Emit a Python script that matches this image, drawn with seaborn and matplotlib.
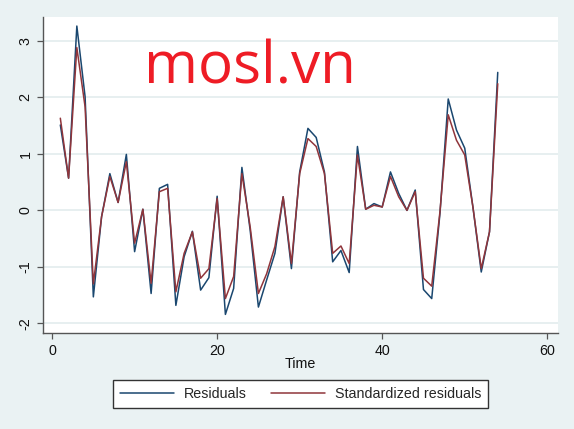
import numpy as np
import pandas as pd
import matplotlib
matplotlib.use("Agg")
import matplotlib.pyplot as plt
import seaborn as sns

time = list(range(1, 55))
residuals = [1.51, 0.57, 3.26, 2.01, -1.53, -0.11, 0.65, 0.14, 0.99, -0.73,
             0.02, -1.47, 0.39, 0.46, -1.68, -0.82, -0.37, -1.41, -1.19, 0.25,
             -1.84, -1.38, 0.76, -0.35, -1.71, -1.23, -0.76, 0.24, -1.03, 0.68,
             1.45, 1.29, 0.68, -0.91, -0.71, -1.10, 1.13, 0.02, 0.12, 0.06,
             0.68, 0.30, 0.00, 0.36, -1.40, -1.56, -0.05, 1.97, 1.42, 1.10,
             0.05, -1.09, -0.38, 2.44]
std_residuals = [1.63, 0.57, 2.88, 1.83, -1.30, -0.11, 0.60, 0.14, 0.86, -0.58,
                 0.02, -1.29, 0.33, 0.39, -1.44, -0.76, -0.38, -1.20, -1.03, 0.21,
                 -1.56, -1.17, 0.65, -0.29, -1.47, -1.12, -0.64, 0.24, -0.94, 0.65,
                 1.27, 1.13, 0.65, -0.76, -0.63, -0.94, 0.98, 0.02, 0.09, 0.06,
                 0.60, 0.24, 0.00, 0.33, -1.20, -1.34, -0.02, 1.69, 1.24, 0.98,
                 0.05, -1.03, -0.38, 2.24]
series_names = ["Residuals", "Standardized residuals"]
colors = ["#1A476F", "#90353B"]
x_ticks = [0, 20, 40, 60]
y_ticks = [-2, -1, 0, 1, 2, 3]

df = pd.DataFrame({
    "Time": time * 2,
    "value": residuals + std_residuals,
    "series": [series_names[0]] * len(time) + [series_names[1]] * len(time),
})

sns.set_style("white")
plt.rcParams["font.family"] = ["Liberation Sans", "DejaVu Sans"]

bg = "#EAF2F3"
fig = plt.figure(figsize=(5.74, 4.29), dpi=100, facecolor=bg)
ax = fig.add_axes([43 / 574, 1 - 332.5 / 429, (558 - 43) / 574, (332.5 - 17) / 429])
ax.set_facecolor("white")

sns.lineplot(data=df, x="Time", y="value", hue="series", palette=colors,
             hue_order=series_names, linewidth=1.1, ax=ax, legend=False)

ax.set_xlim(-1.1, 61.3)
ax.set_ylim(-2.16, 3.42)
ax.set_xticks(x_ticks)
ax.set_yticks(y_ticks)
ax.set_xticklabels([str(v) for v in x_ticks])
ax.set_yticklabels([str(v) for v in y_ticks], rotation=90, va="center")
ax.grid(axis="y", color="#E3ECEE", linewidth=1.2)
ax.grid(axis="x", visible=False)
ax.set_axisbelow(True)
for s in ["top", "right"]:
    ax.spines[s].set_visible(False)
for s in ["left", "bottom"]:
    ax.spines[s].set_color("#555555")
    ax.spines[s].set_linewidth(1.0)
ax.tick_params(axis="both", direction="out", length=4.5, width=0.9, color="#555555",
               labelsize=10.3, labelcolor="#111111", left=True, bottom=True)
ax.tick_params(axis="x", pad=4)
ax.tick_params(axis="y", pad=3)
ax.set_xlabel("Time", fontsize=10.3, color="#111111", labelpad=-1)
ax.set_ylabel("")

handles = [plt.Line2D([], [], color=c, lw=1.1) for c in colors]
leg = fig.legend(handles, series_names, loc="center", bbox_to_anchor=(300.5 / 574, 1 - 394 / 429),
                 ncol=2, fontsize=10.3, frameon=True, fancybox=False, edgecolor="#333333",
                 framealpha=1, handlelength=3.8, handletextpad=0.65, columnspacing=1.7,
                 borderpad=0.5)
leg.get_frame().set_linewidth(1.0)

fig.text(144 / 574, 1 - 83.3 / 429, "mosl.vn", fontsize=42, color="#EE1C25",
         family=["Open Sans", "DejaVu Sans"], ha="left", va="baseline")

fig.savefig("out.png", dpi=100, facecolor=bg)
